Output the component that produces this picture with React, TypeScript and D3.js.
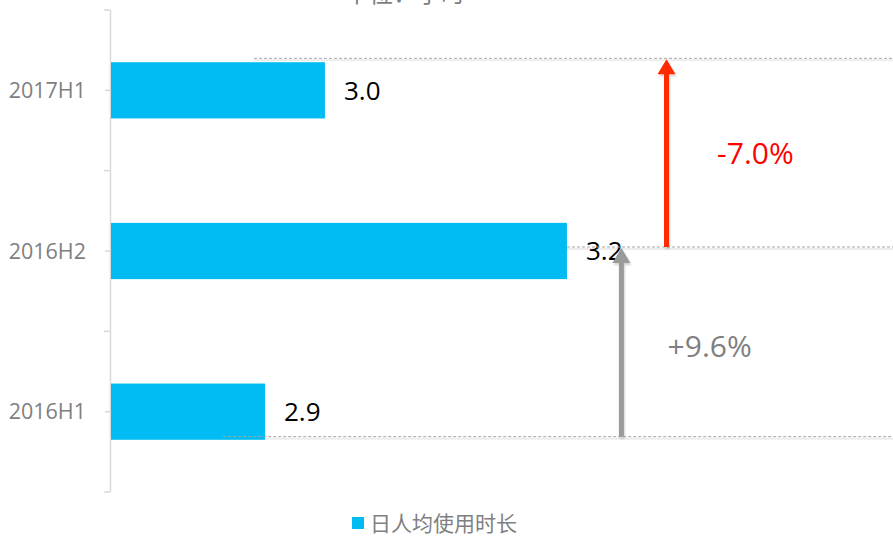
import React from "react";
import * as d3 from "d3";

const categories = ["2017H1", "2016H2", "2016H1"];
const values = [2.9945, 3.2145, 2.94];
const seriesName = "日人均使用时长";
const title = "单位：小时";
// growth annotations: [from category index, to category index]
const changeLabels = ["+9.6%", "-7.0%"];
const changeFrom = [2, 1];
const changeTo = [1, 0];
const changeX = [3.264, 3.305];
const changeLabelX = [3.306, 3.351];
const changeLabelDy = [4, 0];
// dashed guide lines: start value, per category
const guideStart = [2.93, 3.2145, 2.902];
const guideOffset = [-32, -4, 25];

const W = 893;
const H = 536;
const BAR = "#00BCF2";
const GRAY = "#7f7f7f";

export default function App() {
  const x = d3.scaleLinear().domain([2.8, 3.3]).range([111, 661]);
  const y = d3.scaleBand<string>().domain(categories).range([10, 492]).padding(0);
  const bh = y.bandwidth() * 0.35;
  const cy = (i: number) => (y(categories[i]) as number) + y.bandwidth() / 2;
  const guideY = (i: number) => cy(i) + guideOffset[i];
  const boundaries = d3.range(categories.length + 1).map((i) => 10 + i * y.step());

  const arrowColors = ["#9a9a9a", "#ff2a00"];
  const textColors = [GRAY, "#ff0000"];

  return (
    <svg width={W} height={H} style={{ position: "absolute", left: 0, top: 0, background: "#fff" }}
      fontFamily="'Open Sans', 'Noto Sans', sans-serif">
      <defs>
        <filter id="sh" x="-50%" y="-50%" width="200%" height="200%">
          <feDropShadow dx="1" dy="2" stdDeviation="1.2" floodColor="#000" floodOpacity="0.18" />
        </filter>
      </defs>
      <text x={345} y={1.5} fontSize={24} fill={GRAY} fontFamily="'Noto Sans CJK SC', sans-serif">{title}</text>

      {/* axis */}
      <line x1={110.5} x2={110.5} y1={10} y2={492} stroke="#d9d9d9" strokeWidth={1.5} />
      {boundaries.map((b, i) => (
        <line key={"b" + i} x1={104} x2={110} y1={b} y2={b} stroke="#d9d9d9" strokeWidth={1.5} />
      ))}
      {categories.map((c, i) => (
        <line key={"t" + i} x1={105} x2={110} y1={cy(i)} y2={cy(i)} stroke="#d9d9d9" strokeWidth={1.5} />
      ))}
      {categories.map((c, i) => (
        <text key={"c" + i} x={86} y={cy(i)} dy="0.35em" textAnchor="end" fontSize={21.5} fill={GRAY}>{c}</text>
      ))}

      {/* guide shadows */}
      {categories.map((c, i) => (
        <line key={"gs" + i} x1={x(guideStart[i])} x2={W} y1={guideY(i) + 2} y2={guideY(i) + 2} stroke="#ededed" strokeWidth={2} />
      ))}

      {/* bars */}
      {values.map((v, i) => (
        <rect key={"r" + i} x={x(2.8)} y={cy(i) - bh / 2} width={x(v) - x(2.8)} height={bh} fill={BAR} />
      ))}
      {values.map((v, i) => (
        <text key={"v" + i} x={x(v) + 19} y={cy(i)} dy="0.36em" fontSize={26} fill="#000">{v.toFixed(1)}</text>
      ))}

      {/* guides */}
      {categories.map((c, i) => (
        <line key={"g" + i} x1={x(guideStart[i])} x2={W} y1={guideY(i)} y2={guideY(i)} stroke="#a6a6a6" strokeWidth={1} strokeDasharray="3,2" />
      ))}

      {/* arrows */}
      {changeLabels.map((l, k) => {
        const ax = x(changeX[k]);
        const y0 = guideY(changeFrom[k]);
        const y1 = guideY(changeTo[k]) + 1;
        const p = d3.path();
        p.moveTo(ax - 2.5, y0);
        p.lineTo(ax - 2.5, y1 + 15);
        p.lineTo(ax - 9, y1 + 15);
        p.lineTo(ax, y1);
        p.lineTo(ax + 9, y1 + 15);
        p.lineTo(ax + 2.5, y1 + 15);
        p.lineTo(ax + 2.5, y0);
        p.closePath();
        return (
          <g key={"a" + k}>
            <path d={p.toString()} fill={arrowColors[k]} filter="url(#sh)" />
            <text x={x(changeLabelX[k])} y={(y0 + y1) / 2 + changeLabelDy[k]} dy="0.36em" fontSize={30} fontWeight={500} fill={textColors[k]}>{l}</text>
          </g>
        );
      })}

      {/* legend */}
      <rect x={352} y={517} width={12} height={12} fill={BAR} />
      <text x={370} y={531} fontSize={21} fill={GRAY} fontFamily="'Noto Sans CJK SC', sans-serif">{seriesName}</text>
    </svg>
  );
}
